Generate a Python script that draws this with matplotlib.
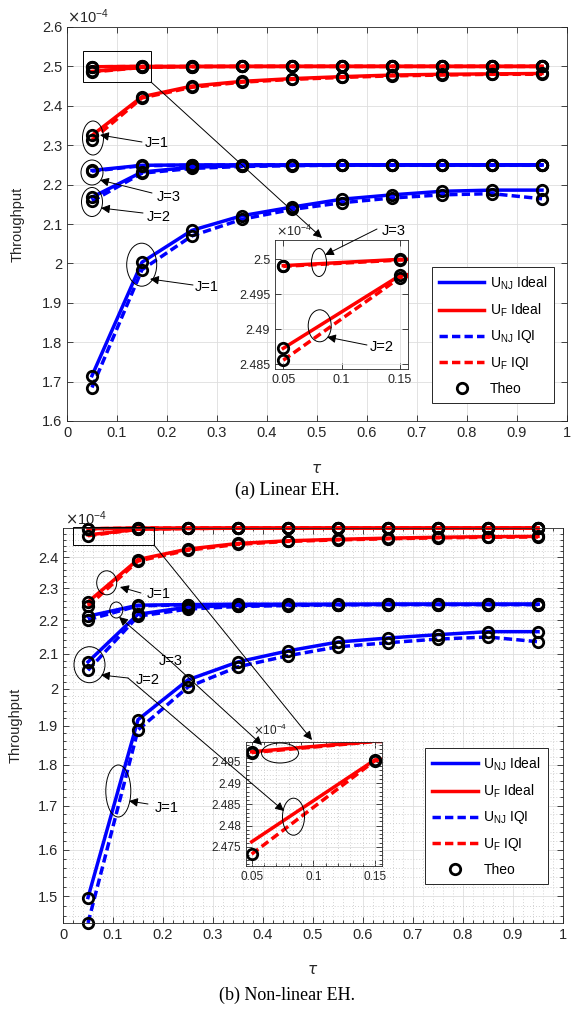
import numpy as np
import matplotlib
matplotlib.use("Agg")
import matplotlib.pyplot as plt
from matplotlib.patches import Ellipse, Rectangle, FancyArrowPatch
from matplotlib.lines import Line2D
from matplotlib.transforms import Affine2D
from matplotlib.ticker import FixedLocator, MultipleLocator, FormatStrFormatter, NullFormatter

plt.rcParams["font.family"] = ["Liberation Sans", "DejaVu Sans"]

# throughput values are in units of 1e-4
tau = [0.05, 0.15, 0.25, 0.35, 0.45, 0.55, 0.65, 0.75, 0.85, 0.95]

# (a) linear EH
lin_nj_ideal_j1 = [1.715, 2.003, 2.084, 2.121, 2.143, 2.163, 2.174, 2.183, 2.186, 2.186]
lin_nj_iqi_j1 = [1.685, 1.984, 2.070, 2.112, 2.137, 2.154, 2.166, 2.174, 2.177, 2.164]
lin_nj_ideal_j2 = [2.168, 2.232, 2.244, 2.248, 2.249, 2.250, 2.250, 2.250, 2.250, 2.250]
lin_nj_iqi_j2 = [2.158, 2.229, 2.241, 2.246, 2.248, 2.249, 2.249, 2.249, 2.249, 2.249]
lin_nj_ideal_j3 = [2.236, 2.249, 2.250, 2.250, 2.250, 2.250, 2.250, 2.250, 2.250, 2.250]
lin_nj_iqi_j3 = [2.234, 2.248, 2.249, 2.250, 2.250, 2.250, 2.250, 2.250, 2.250, 2.250]
lin_f_ideal_j1 = [2.325, 2.423, 2.450, 2.462, 2.469, 2.474, 2.478, 2.480, 2.481, 2.482]
lin_f_iqi_j1 = [2.313, 2.420, 2.447, 2.460, 2.467, 2.472, 2.476, 2.478, 2.480, 2.480]
lin_f_ideal_j2 = [2.4873, 2.4977, 2.4995, 2.4999, 2.5, 2.5, 2.5, 2.5, 2.5, 2.5]
lin_f_iqi_j2 = [2.4856, 2.4974, 2.4994, 2.4998, 2.5, 2.5, 2.5, 2.5, 2.5, 2.5]
lin_f_ideal_j3 = [2.4991, 2.5, 2.5, 2.5, 2.5, 2.5, 2.5, 2.5, 2.5, 2.5]
lin_f_iqi_j3 = [2.4990, 2.4999, 2.5, 2.5, 2.5, 2.5, 2.5, 2.5, 2.5, 2.5]

# (b) non-linear EH
nl_nj_ideal_j1 = [1.497, 1.916, 2.025, 2.076, 2.108, 2.134, 2.146, 2.156, 2.165, 2.165]
nl_nj_iqi_j1 = [1.445, 1.889, 2.005, 2.062, 2.094, 2.120, 2.132, 2.143, 2.149, 2.135]
nl_nj_ideal_j2 = [2.076, 2.218, 2.240, 2.245, 2.247, 2.248, 2.249, 2.249, 2.249, 2.249]
nl_nj_iqi_j2 = [2.052, 2.212, 2.234, 2.242, 2.245, 2.247, 2.248, 2.248, 2.248, 2.248]
nl_nj_ideal_j3 = [2.212, 2.246, 2.248, 2.249, 2.249, 2.249, 2.249, 2.249, 2.249, 2.249]
nl_nj_iqi_j3 = [2.201, 2.244, 2.247, 2.248, 2.248, 2.248, 2.248, 2.248, 2.248, 2.248]
nl_f_ideal_j1 = [2.256, 2.393, 2.428, 2.447, 2.456, 2.461, 2.465, 2.468, 2.470, 2.471]
nl_f_iqi_j1 = [2.243, 2.388, 2.424, 2.444, 2.454, 2.459, 2.463, 2.466, 2.468, 2.469]
nl_f_ideal_j2 = [2.4762, 2.4955, 2.4985, 2.4993, 2.4996, 2.4997, 2.4998, 2.4998, 2.4998, 2.4998]
nl_f_iqi_j2 = [2.4733, 2.4953, 2.4984, 2.4992, 2.4995, 2.4997, 2.4997, 2.4998, 2.4998, 2.4998]
nl_f_ideal_j3 = [2.4974, 2.4999, 2.4999, 2.4999, 2.4999, 2.4999, 2.4999, 2.4999, 2.4999, 2.4999]
nl_f_iqi_j3 = [2.4972, 2.4998, 2.4999, 2.4999, 2.4999, 2.4999, 2.4999, 2.4999, 2.4999, 2.4999]

legend_labels = [r"U$_{\mathregular{NJ}}$ Ideal", r"U$_{\mathregular{F}}$ Ideal",
                 r"U$_{\mathregular{NJ}}$ IQI", r"U$_{\mathregular{F}}$ IQI", "Theo"]

BLUE, RED, INK = "#0000ff", "#ff0000", "#262626"
LW, MS, MEW = 2.5, 7.5, 2.0
DASH = (2.4, 1.2)

series_a = [
    (lin_nj_ideal_j1, BLUE, "-"), (lin_nj_ideal_j2, BLUE, "-"), (lin_nj_ideal_j3, BLUE, "-"),
    (lin_f_ideal_j1, RED, "-"), (lin_f_ideal_j2, RED, "-"), (lin_f_ideal_j3, RED, "-"),
    (lin_nj_iqi_j1, BLUE, "--"), (lin_nj_iqi_j2, BLUE, "--"), (lin_nj_iqi_j3, BLUE, "--"),
    (lin_f_iqi_j1, RED, "--"), (lin_f_iqi_j2, RED, "--"), (lin_f_iqi_j3, RED, "--"),
]
series_b = [
    (nl_nj_ideal_j1, BLUE, "-"), (nl_nj_ideal_j2, BLUE, "-"), (nl_nj_ideal_j3, BLUE, "-"),
    (nl_f_ideal_j1, RED, "-"), (nl_f_ideal_j2, RED, "-"), (nl_f_ideal_j3, RED, "-"),
    (nl_nj_iqi_j1, BLUE, "--"), (nl_nj_iqi_j2, BLUE, "--"), (nl_nj_iqi_j3, BLUE, "--"),
    (nl_f_iqi_j1, RED, "--"), (nl_f_iqi_j2, RED, "--"), (nl_f_iqi_j3, RED, "--"),
]

W, H = 575, 1009
fig = plt.figure(figsize=(W / 100, H / 100), dpi=100)
pix = Affine2D().scale(1.0 / W, -1.0 / H).translate(0, 1) + fig.transFigure


def px_axes(l, t, r, b):
    return fig.add_axes([l / W, 1 - b / H, (r - l) / W, (b - t) / H])


def draw(ax, series, clip, ylim, skip_first=()):
    for vals, color, ls in series:
        line, = ax.plot(tau, vals, color=color, lw=LW, ls=ls, clip_on=clip)
        if ls == "--":
            line.set_dashes(DASH)
    # markers whose centre falls outside the limits are dropped (as MATLAB does)
    for vals, color, ls in series:
        every = [i for i, v in enumerate(vals) if ylim[0] <= v <= ylim[1]]
        if vals is skip_first:
            every = [i for i in every if i > 0]
        ax.plot(tau, vals, ls="none", marker="o", mfc="none", mec="k",
                ms=MS, mew=MEW, clip_on=clip, markevery=every)


def style(ax, fs, minor=False):
    ax.set_axisbelow(True)
    ax.tick_params(direction="in", which="both", top=True, right=True,
                   labelsize=fs, colors=INK, width=0.6)
    ax.tick_params(which="major", length=4)
    ax.tick_params(which="minor", length=2)
    for s in ax.spines.values():
        s.set_color(INK)
        s.set_linewidth(0.6)
    ax.grid(True, which="major", color="#dedede", lw=0.6)
    if minor:
        ax.grid(True, which="minor", color="#c4c4c4", lw=0.6, ls=(0, (1, 2.5)))


def offset_label(x, y, fs):
    fig.text(x, y, r"$\times\mathregular{10^{-4}}$", transform=pix, fontsize=fs, color=INK,
             ha="left", va="baseline")


def arrow(p0, p1):
    fig.add_artist(FancyArrowPatch(p0, p1, transform=pix, arrowstyle="-|>",
                                   mutation_scale=13, lw=0.7, color="k",
                                   shrinkA=0, shrinkB=0))


def ellipse(cx, cy, w, h):
    fig.add_artist(Ellipse((cx, cy), w, h, transform=pix, fill=False, lw=0.7, ec="k"))


def label(x, y, s):
    fig.text(x, y, s, transform=pix, fontsize=10.5, ha="center", va="center", color="k")


def legend(ax, x, y):
    handles = [Line2D([], [], color=BLUE, lw=LW), Line2D([], [], color=RED, lw=LW),
               Line2D([], [], color=BLUE, lw=LW, dashes=DASH),
               Line2D([], [], color=RED, lw=LW, dashes=DASH),
               Line2D([], [], ls="none", marker="o", mfc="none", mec="k", ms=MS, mew=MEW)]
    leg = ax.legend(handles, legend_labels, loc="upper left", bbox_to_anchor=(x, y),
                    bbox_transform=pix, fontsize=10, fancybox=False, framealpha=1,
                    edgecolor=INK, borderaxespad=0, handlelength=3.3,
                    handletextpad=0.4, labelspacing=0.7, borderpad=0.5)
    leg.get_frame().set_linewidth(0.7)


# ---------------- (a) linear EH ----------------
ax_a = px_axes(67, 27, 567, 421)
draw(ax_a, series_a, clip=False, ylim=(1.6, 2.6))
ax_a.set_xlim(0, 1)
ax_a.set_ylim(1.6, 2.6)
ax_a.xaxis.set_major_locator(FixedLocator(np.round(np.arange(0, 1.01, 0.1), 2)))
ax_a.yaxis.set_major_locator(FixedLocator(np.round(np.arange(1.6, 2.61, 0.1), 2)))
ax_a.xaxis.set_major_formatter(FormatStrFormatter("%g"))
ax_a.yaxis.set_major_formatter(FormatStrFormatter("%g"))
style(ax_a, 10.5)
ax_a.set_ylabel("Throughput", fontsize=10.5, color=INK)
ax_a.yaxis.set_label_coords(-0.084, 0.5)
ax_a.set_xlabel(r"$\tau$", fontsize=11, color=INK)
ax_a.xaxis.set_label_coords(0.5, -0.104)
offset_label(67, 23, 10.5)
legend(ax_a, 431.7, 267.3)

ins_a_ylim = (2.4843, 2.50276)
ins_a = px_axes(275, 240, 407.7, 369.3)
draw(ins_a, series_a, clip=True, ylim=ins_a_ylim)
ins_a.set_xlim(0.0429, 0.1566)
ins_a.set_ylim(*ins_a_ylim)
ins_a.xaxis.set_major_locator(FixedLocator([0.05, 0.1, 0.15]))
ins_a.yaxis.set_major_locator(FixedLocator([2.485, 2.49, 2.495, 2.5]))
ins_a.xaxis.set_major_formatter(FormatStrFormatter("%g"))
ins_a.yaxis.set_major_formatter(FormatStrFormatter("%g"))
style(ins_a, 9)
offset_label(276, 236, 9)

# zoom box + annotations (a)
fig.add_artist(Rectangle((83, 50.7), 68, 31.3, transform=pix, fill=False, lw=0.7, ec="k"))
arrow((151, 82), (322, 238))
ellipse(93, 138, 21, 34)
ellipse(92, 172.5, 22, 25)
ellipse(92, 202, 21, 29)
ellipse(141.7, 264.7, 30, 43)
ellipse(319, 262.5, 15, 28)
ellipse(319.7, 325.8, 23, 32)
arrow((142, 142), (100, 135)); label(157, 143, "J=1")
arrow((152, 193), (100, 180)); label(169, 197, "J=3")
arrow((143, 213), (101, 208)); label(159, 217, "J=2")
arrow((193, 285), (150, 279)); label(207, 287, "J=1")
arrow((377, 229), (325, 255)); label(394, 231, "J=3")
arrow((367, 345), (327, 337)); label(382, 347, "J=2")

# ---------------- (b) non-linear EH ----------------
ax_b = px_axes(63, 528, 563, 923)
draw(ax_b, series_b, clip=False, ylim=(1.44, 2.51), skip_first=nl_f_ideal_j2)
ax_b.set_yscale("log")
ax_b.set_xlim(0, 1)
ax_b.set_ylim(1.445, 2.5)
ax_b.xaxis.set_major_locator(FixedLocator(np.round(np.arange(0, 1.01, 0.1), 2)))
ax_b.xaxis.set_minor_locator(MultipleLocator(0.02))
ax_b.yaxis.set_major_locator(FixedLocator(np.round(np.arange(1.5, 2.41, 0.1), 2)))
ax_b.yaxis.set_minor_locator(FixedLocator(np.round(np.arange(1.46, 2.5, 0.02), 2)))
ax_b.xaxis.set_major_formatter(FormatStrFormatter("%g"))
ax_b.yaxis.set_major_formatter(FormatStrFormatter("%g"))
ax_b.yaxis.set_minor_formatter(NullFormatter())
style(ax_b, 10.5, minor=True)
ax_b.set_ylabel("Throughput", fontsize=10.5, color=INK)
ax_b.yaxis.set_label_coords(-0.08, 0.5)
ax_b.set_xlabel(r"$\tau$", fontsize=11, color=INK)
ax_b.xaxis.set_label_coords(0.5, -0.101)
offset_label(65, 525, 10.5)
legend(ax_b, 425, 748.3)

ins_b_ylim = (2.4705, 2.4997)
ins_b = px_axes(246, 742, 382, 866)
draw(ins_b, series_b, clip=True, ylim=ins_b_ylim, skip_first=nl_f_ideal_j2)
ins_b.set_xlim(0.0454, 0.1557)
ins_b.set_ylim(*ins_b_ylim)
ins_b.xaxis.set_major_locator(FixedLocator([0.05, 0.1, 0.15]))
ins_b.xaxis.set_minor_locator(MultipleLocator(0.01))
ins_b.yaxis.set_major_locator(FixedLocator([2.475, 2.48, 2.485, 2.49, 2.495]))
ins_b.yaxis.set_minor_locator(MultipleLocator(0.001))
ins_b.xaxis.set_major_formatter(FormatStrFormatter("%g"))
ins_b.yaxis.set_major_formatter(FormatStrFormatter("%g"))
style(ins_b, 8.5, minor=True)
offset_label(253, 735, 8.5)

# zoom box + annotations (b)
fig.add_artist(Rectangle((72.7, 526.7), 81.3, 18.3, transform=pix, fill=False, lw=0.7, ec="k"))
arrow((154, 545), (312, 740))
ellipse(106.7, 582.8, 20, 24)
ellipse(116.3, 610, 13, 16)
ellipse(89.5, 664.7, 31, 36)
ellipse(118.3, 791, 25, 52)
ellipse(280, 753, 37, 20)
ellipse(293.5, 816.7, 22, 37)
arrow((141, 593), (120, 587)); label(159, 594.5, "J=1")
arrow((168, 659), (119, 617)); arrow((168, 659), (262, 745)); label(171, 661, "J=3")
arrow((128, 678), (101, 675)); arrow((128, 678), (284, 811)); label(148, 680, "J=2")
arrow((148, 804), (129, 801)); label(166.5, 808, "J=1")

# captions
fig.text(287, 490, "(a) Linear EH.", transform=pix, fontsize=13,
         family="Liberation Serif", ha="center", va="center")
fig.text(287, 995, "(b) Non-linear EH.", transform=pix, fontsize=13,
         family="Liberation Serif", ha="center", va="center")

fig.savefig("out.png", dpi=100)
